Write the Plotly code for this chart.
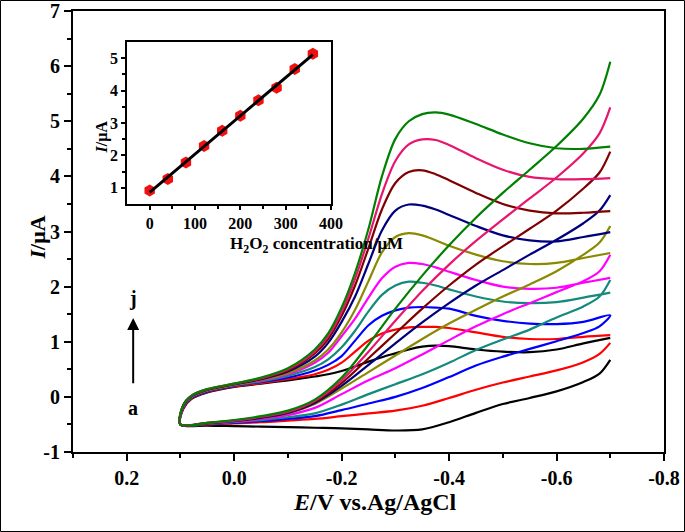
import plotly.graph_objects as go
import numpy as np

# ---------------- data ----------------
labels = ["a", "b", "c", "d", "e", "f", "g", "h", "i", "j"]
colors = ["#000000", "#FF0000", "#0000FF", "#138A7C", "#FF00FF",
          "#8A8A00", "#00007F", "#7F0000", "#E8156E", "#008000"]

# return (upper) branch potentials, from -0.7 V back to 0.1 V
E_up = [-0.70, -0.65, -0.60, -0.55, -0.50, -0.45, -0.40, -0.375, -0.35, -0.325, -0.30,
        -0.275, -0.25, -0.225, -0.20, -0.175, -0.15, -0.10, -0.05, 0.00, 0.05, 0.08, 0.095, 0.10]
I_up = {
    "a": [1.07, 0.97, 0.86, 0.81, 0.82, 0.86, 0.92, 0.93, 0.91, 0.86, 0.79, 0.72, 0.64, 0.55, 0.47, 0.41, 0.37, 0.30, 0.24, 0.18, 0.08, -0.04, -0.22, -0.50],
    "b": [1.12, 1.09, 1.05, 1.05, 1.09, 1.17, 1.25, 1.27, 1.27, 1.26, 1.22, 1.15, 1.02, 0.82, 0.62, 0.49, 0.41, 0.32, 0.25, 0.19, 0.09, -0.03, -0.21, -0.50],
    "c": [1.48, 1.36, 1.32, 1.33, 1.38, 1.47, 1.60, 1.62, 1.63, 1.62, 1.57, 1.47, 1.30, 1.02, 0.74, 0.58, 0.48, 0.35, 0.27, 0.20, 0.10, -0.02, -0.20, -0.50],
    "d": [1.89, 1.80, 1.72, 1.70, 1.73, 1.82, 1.95, 2.02, 2.07, 2.09, 2.02, 1.85, 1.55, 1.20, 0.90, 0.68, 0.54, 0.38, 0.28, 0.21, 0.11, -0.01, -0.19, -0.50],
    "e": [2.16, 2.07, 1.98, 1.96, 2.00, 2.12, 2.27, 2.35, 2.41, 2.43, 2.36, 2.15, 1.80, 1.42, 1.10, 0.80, 0.62, 0.41, 0.30, 0.22, 0.12, 0.00, -0.18, -0.50],
    "f": [2.61, 2.52, 2.43, 2.41, 2.46, 2.58, 2.74, 2.84, 2.93, 2.97, 2.90, 2.62, 2.10, 1.58, 1.17, 0.86, 0.66, 0.43, 0.31, 0.22, 0.12, 0.00, -0.17, -0.50],
    "g": [2.99, 2.90, 2.82, 2.84, 2.93, 3.10, 3.30, 3.40, 3.47, 3.49, 3.38, 3.02, 2.42, 1.82, 1.36, 0.98, 0.73, 0.46, 0.32, 0.23, 0.13, 0.01, -0.16, -0.50],
    "h": [3.37, 3.34, 3.33, 3.38, 3.50, 3.70, 3.93, 4.04, 4.11, 4.08, 3.88, 3.40, 2.70, 2.02, 1.47, 1.05, 0.79, 0.48, 0.33, 0.23, 0.13, 0.01, -0.16, -0.50],
    "i": [3.97, 3.95, 3.95, 3.99, 4.12, 4.33, 4.57, 4.66, 4.67, 4.58, 4.28, 3.68, 2.88, 2.14, 1.54, 1.10, 0.82, 0.50, 0.34, 0.24, 0.14, 0.02, -0.15, -0.50],
    "j": [4.54, 4.50, 4.51, 4.60, 4.76, 4.95, 5.12, 5.16, 5.13, 5.00, 4.68, 4.00, 3.05, 2.25, 1.62, 1.15, 0.86, 0.52, 0.35, 0.24, 0.14, 0.02, -0.15, -0.50],
}

# forward (lower) branch potentials, from 0.1 V to -0.7 V
E_low = [0.10, 0.05, 0.00, -0.05, -0.10, -0.15, -0.20, -0.25, -0.30,
         -0.35, -0.40, -0.45, -0.50, -0.55, -0.60, -0.65, -0.68, -0.70]
I_low = {
    "a": [-0.52, -0.52, -0.53, -0.54, -0.55, -0.56, -0.57, -0.59, -0.61, -0.59, -0.46, -0.29, -0.13, -0.02, 0.10, 0.27, 0.42, 0.67],
    "b": [-0.52, -0.50, -0.48, -0.46, -0.43, -0.40, -0.35, -0.30, -0.25, -0.16, -0.02, 0.13, 0.26, 0.37, 0.48, 0.63, 0.78, 0.98],
    "c": [-0.52, -0.49, -0.47, -0.44, -0.40, -0.35, -0.24, -0.12, 0.00, 0.16, 0.36, 0.57, 0.73, 0.87, 1.01, 1.16, 1.28, 1.48],
    "d": [-0.52, -0.49, -0.46, -0.42, -0.37, -0.30, -0.14, 0.05, 0.23, 0.41, 0.62, 0.85, 1.04, 1.22, 1.44, 1.64, 1.82, 2.12],
    "e": [-0.52, -0.48, -0.45, -0.40, -0.33, -0.20, 0.05, 0.30, 0.52, 0.77, 1.03, 1.28, 1.50, 1.70, 1.90, 2.10, 2.28, 2.58],
    "f": [-0.52, -0.48, -0.44, -0.38, -0.30, -0.13, 0.15, 0.45, 0.75, 1.05, 1.33, 1.58, 1.82, 2.04, 2.28, 2.58, 2.80, 3.10],
    "g": [-0.52, -0.48, -0.44, -0.38, -0.29, -0.11, 0.20, 0.58, 0.97, 1.35, 1.70, 2.02, 2.30, 2.58, 2.85, 3.15, 3.38, 3.66],
    "h": [-0.52, -0.47, -0.43, -0.37, -0.28, -0.09, 0.25, 0.70, 1.15, 1.60, 2.02, 2.40, 2.73, 3.05, 3.38, 3.78, 4.07, 4.45],
    "i": [-0.52, -0.47, -0.43, -0.36, -0.27, -0.07, 0.30, 0.82, 1.38, 1.92, 2.40, 2.83, 3.22, 3.60, 3.98, 4.42, 4.78, 5.25],
    "j": [-0.52, -0.47, -0.42, -0.35, -0.25, -0.05, 0.35, 0.95, 1.60, 2.20, 2.75, 3.25, 3.70, 4.12, 4.55, 5.05, 5.48, 6.08],
}

# inset calibration data
conc = [0, 40, 80, 120, 160, 200, 240, 280, 320, 360]
peak_current = [0.92, 1.27, 1.78, 2.29, 2.76, 3.22, 3.70, 4.09, 4.67, 5.14]

x_tickvals = [0.2, 0.0, -0.2, -0.4, -0.6, -0.8]
x_ticktext = ["0.2", "0.0", "-0.2", "-0.4", "-0.6", "-0.8"]
y_tickvals = [-1, 0, 1, 2, 3, 4, 5, 6, 7]
y_ticktext = ["-1", "0", "1", "2", "3", "4", "5", "6", "7"]
ins_xtickvals = [0, 100, 200, 300, 400]
ins_ytickvals = [1, 2, 3, 4, 5]

# ---------------- figure ----------------
FONT = "Liberation Serif"
fig = go.Figure()

for lab, col in zip(labels, colors):
    xs = E_up + E_low[1:]
    ys = I_up[lab] + I_low[lab][1:]
    fig.add_trace(go.Scatter(x=xs, y=ys, mode="lines",
                             line=dict(color=col, width=2.2, shape="spline", smoothing=0.9),
                             showlegend=False, xaxis="x", yaxis="y"))

# inset
slope, intercept = np.polyfit(conc, peak_current, 1)
fit_x = [min(conc), max(conc)]
fit_y = [intercept + slope * v for v in fit_x]
fig.add_trace(go.Scatter(x=conc, y=peak_current, mode="markers",
                         marker=dict(color="#F01010", size=12, symbol="hexagon"),
                         showlegend=False, xaxis="x2", yaxis="y2"))
fig.add_trace(go.Scatter(x=fit_x, y=fit_y, mode="lines",
                         line=dict(color="black", width=3),
                         showlegend=False, xaxis="x2", yaxis="y2"))

axis_common = dict(showline=True, linecolor="black", linewidth=2, mirror=True,
                   ticks="outside", tickcolor="black", tickwidth=2,
                   showgrid=False, zeroline=False, automargin=False)
inset_common = dict(showline=True, linecolor="black", linewidth=1.5, mirror=True,
                    ticks="outside", tickcolor="black", tickwidth=1.5,
                    showgrid=False, zeroline=False, automargin=False)

L, R, T, B = 73, 21, 11, 80
W, H = 685, 532
pw, ph = W - L - R, H - T - B


def px_x(p):
    return (p - L) / pw


def px_y(p):
    return (H - B - p) / ph


fig.update_layout(
    width=W, height=H,
    margin=dict(l=L, r=R, t=T, b=B),
    paper_bgcolor="white", plot_bgcolor="white",
    font=dict(family=FONT, color="black"),
    xaxis=dict(range=[0.3, -0.8], tickvals=x_tickvals, ticktext=x_ticktext,
               ticklen=7, tickfont=dict(size=20, family=FONT, weight="bold"),
               minor=dict(ticks="outside", ticklen=4, tickwidth=2, tickcolor="black",
                          tickvals=[0.3, 0.1, -0.1, -0.3, -0.5, -0.7]),
               **axis_common),
    yaxis=dict(range=[-1, 7], tickvals=y_tickvals, ticktext=y_ticktext,
               ticklen=7, tickfont=dict(size=20, family=FONT, weight="bold"),
               minor=dict(ticks="outside", ticklen=4, tickwidth=2, tickcolor="black",
                          tickvals=[-0.5, 0.5, 1.5, 2.5, 3.5, 4.5, 5.5, 6.5]),
               **axis_common),
    xaxis2=dict(domain=[px_x(127), px_x(331)], anchor="y2",
                range=[-50, 400], tickvals=ins_xtickvals,
                ticklen=4, tickfont=dict(size=16, family=FONT, weight="bold"),
                minor=dict(ticks="outside", ticklen=3, tickwidth=1.5, tickcolor="black",
                           tickvals=[50, 150, 250, 350]),
                **inset_common),
    yaxis2=dict(domain=[px_y(204), px_y(42)], anchor="x2",
                range=[0.5, 5.5], tickvals=ins_ytickvals,
                ticklen=4, tickfont=dict(size=16, family=FONT, weight="bold"),
                minor=dict(ticks="outside", ticklen=3, tickwidth=1.5, tickcolor="black",
                           tickvals=[1.5, 2.5, 3.5, 4.5]),
                **inset_common),
)

# axis titles
fig.add_annotation(x=px_x(375), y=px_y(517), xref="paper", yref="paper",
                   text="<b><i>E</i>/V vs.Ag/AgCl</b>", showarrow=False,
                   font=dict(size=24, family=FONT))
fig.add_annotation(x=px_x(22), y=px_y(238), xref="paper", yref="paper",
                   text="<b><i>I</i>/μA</b>", showarrow=False, textangle=-90,
                   font=dict(size=22, family=FONT))
fig.add_annotation(x=px_x(228), y=px_y(245), xref="paper", yref="paper",
                   text="<b>H<sub>2</sub>O<sub>2</sub> concentration/μM</b>", showarrow=False,
                   font=dict(size=17, family=FONT))
fig.add_annotation(x=px_x(90), y=px_y(119), xref="paper", yref="paper",
                   text="<b><i>I</i>/μA</b>", showarrow=False, textangle=-90,
                   font=dict(size=16, family=FONT))

# arrow a -> j
fig.add_annotation(x=0.188, y=1.43, ax=0.188, ay=0.22, xref="x", yref="y",
                   axref="x", ayref="y", showarrow=True, arrowhead=2,
                   arrowsize=1.2, arrowwidth=2, arrowcolor="black", text="")
fig.add_annotation(x=0.188, y=1.78, xref="x", yref="y", text="<b>j</b>",
                   showarrow=False, font=dict(size=20, family=FONT))
fig.add_annotation(x=0.188, y=-0.2, xref="x", yref="y", text="<b>a</b>",
                   showarrow=False, font=dict(size=20, family=FONT))

# outer image border
fig.add_shape(type="rect", xref="paper", yref="paper",
              x0=px_x(0.5), x1=px_x(W - 0.5),
              y0=px_y(H - 0.5), y1=px_y(0.5),
              line=dict(color="black", width=1), layer="above")

fig.write_html("out.html", config={"displayModeBar": False},
               post_script="document.body.style.margin='0';document.body.style.padding='0';")
